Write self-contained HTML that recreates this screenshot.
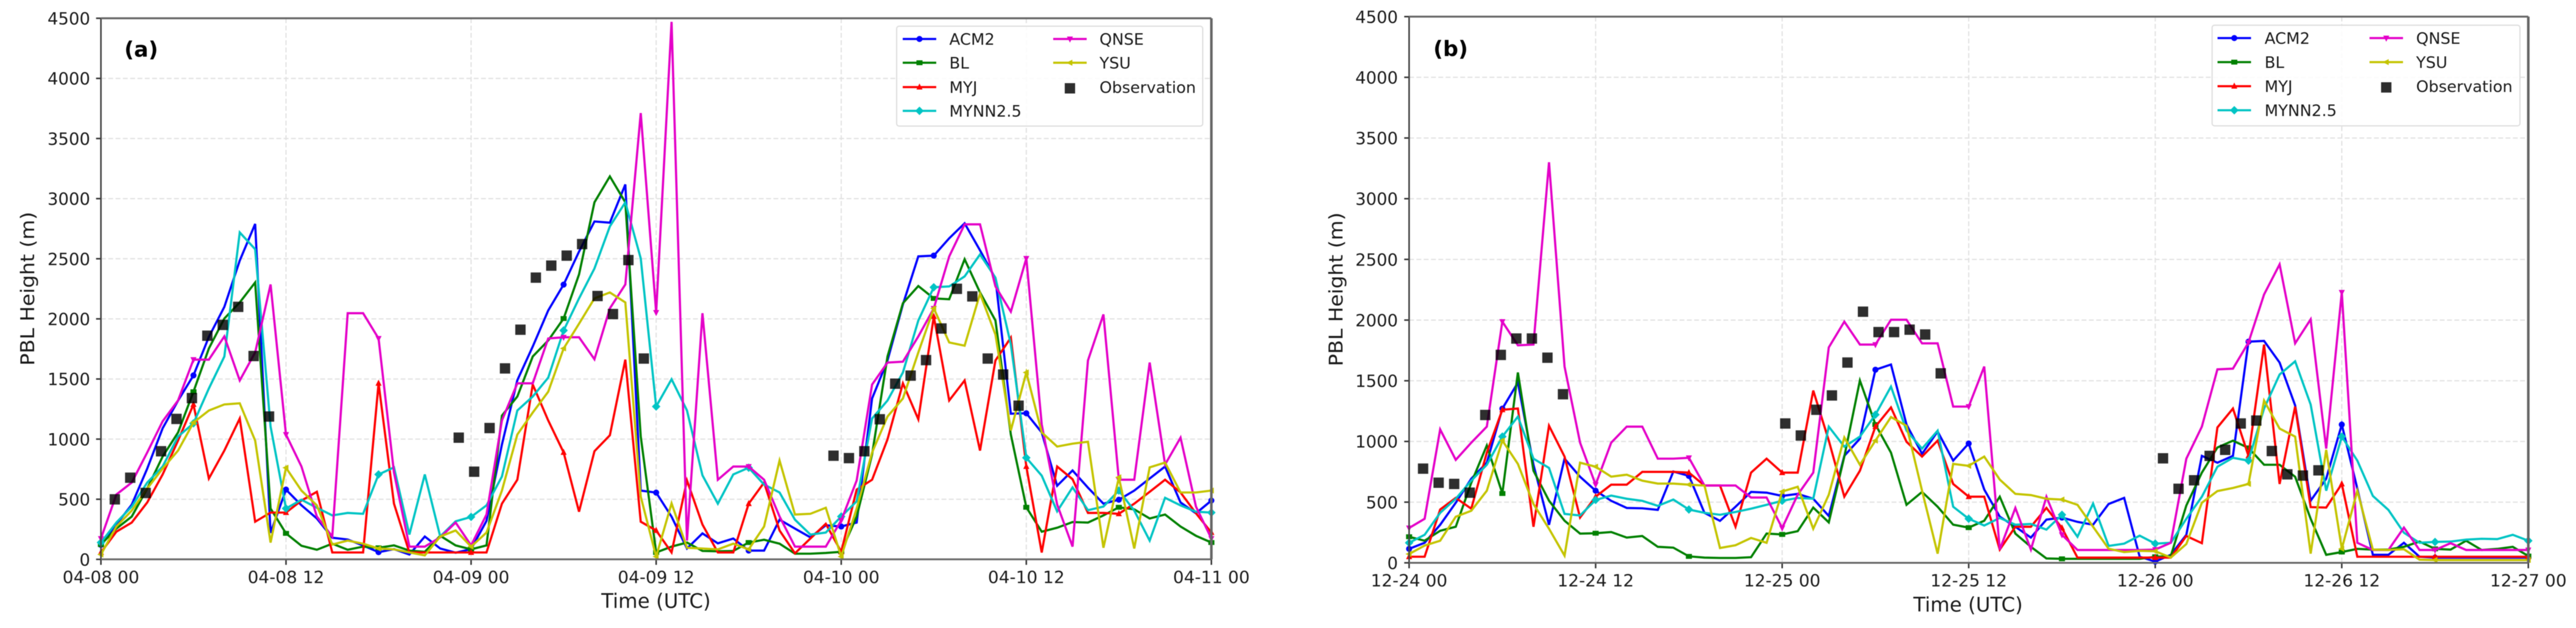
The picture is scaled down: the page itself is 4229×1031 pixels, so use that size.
<!DOCTYPE html>
<html lang="en">
<head>
<meta charset="utf-8">
<title>PBL Height comparison</title>
<style>
html,body{margin:0;padding:0;background:#fff;}
body{width:4229px;height:1031px;overflow:hidden;}
svg{display:block;filter:blur(0.6px);}
text{font-family:"DejaVu Sans","Liberation Sans",sans-serif;fill:#1a1a1a;}
</style>
</head>
<body>
<svg id="chart" xmlns="http://www.w3.org/2000/svg" width="4229" height="1031" viewBox="0 0 4229 1031"></svg>
<script>
const yTickValues = [0,500,1000,1500,2000,2500,3000,3500,4000,4500];
const xTickHours = [0,12,24,36,48,60,72];
const xTickLabelsA = ["04-08 00","04-08 12","04-09 00","04-09 12","04-10 00","04-10 12","04-11 00"];
const xTickLabelsB = ["12-24 00","12-24 12","12-25 00","12-25 12","12-26 00","12-26 12","12-27 00"];
const seriesNames = ["ACM2","BL","MYJ","MYNN2.5","QNSE","YSU"];

const acm2A = [120,290,455,755,1090,1320,1530,1850,2100,2485,2790,220,580,450,340,180,165,115,60,85,40,190,90,55,85,320,955,1490,1770,2070,2285,2560,2810,2800,3118,572,555,355,90,216,133,173,73,73,330,256,183,283,273,306,1338,1654,2120,2520,2526,2670,2795,2570,2336,1211,1215,1055,612,739,596,463,496,572,672,772,473,383,489];
const blA = [123,256,356,589,855,1055,1394,1754,2003,2137,2303,423,216,113,80,130,80,106,96,116,73,63,196,116,83,116,1195,1354,1687,1820,2003,2370,2969,3185,2969,1022,57,106,140,70,67,70,140,163,130,47,47,53,63,356,872,1687,2130,2273,2170,2163,2496,2220,1987,1038,433,230,263,310,306,366,433,416,340,373,273,196,140];
const myjA = [57,230,306,473,706,988,1288,672,905,1171,313,389,389,489,562,57,57,57,1464,463,57,57,57,57,57,57,463,662,1454,1155,889,396,899,1032,1661,313,240,57,656,290,57,57,463,639,240,50,173,296,63,580,662,998,1464,1165,2020,1321,1488,905,1654,1844,772,57,772,666,386,386,379,463,562,662,556,383,223];
const mynnA = [140,306,439,639,772,1022,1131,1421,1687,2719,2579,1105,423,496,429,366,386,379,706,765,206,706,190,316,353,449,689,1238,1354,1511,1904,2170,2419,2769,2969,2503,1271,1498,1238,699,463,706,762,622,556,330,206,223,356,483,1171,1321,1554,1987,2263,2270,2353,2536,2343,1787,845,696,399,599,409,439,572,406,156,512,449,396,389];
const qnseA = [173,539,639,889,1148,1321,1661,1661,1854,1488,1721,2286,1038,772,356,190,2047,2047,1837,722,106,106,183,306,116,373,1155,1464,1464,1837,1847,1847,1664,2087,2286,3711,2053,4470,156,2047,662,772,772,662,356,106,106,106,323,656,1454,1637,1644,1854,2087,2519,2786,2786,2270,2060,2503,1122,456,106,1654,2037,662,662,1637,789,1012,439,173];
const ysuA = [40,273,406,589,755,905,1138,1238,1288,1298,988,140,762,572,449,123,156,130,90,83,57,33,190,240,106,223,572,1038,1221,1394,1754,1960,2170,2220,2137,522,23,466,96,90,83,130,83,273,822,373,379,429,23,423,889,1188,1338,1721,2087,1804,1777,2210,1870,1072,1554,1055,938,962,978,96,682,90,765,805,556,556,572];
const obsHoursA = [0.9,1.9,2.9,3.9,4.9,5.9,6.9,7.9,8.9,9.9,10.9,23.2,24.2,25.2,26.2,27.2,28.2,29.2,30.2,31.2,32.2,33.2,34.2,35.2,47.5,48.5,49.5,50.5,51.5,52.5,53.5,54.5,55.5,56.5,57.5,58.5,59.5];
const obsValuesA = [499,679,552,899,1168,1341,1860,1950,2100,1691,1188,1012,729,1092,1588,1910,2343,2443,2526,2622,2190,2040,2489,1670,862,842,899,1165,1461,1528,1657,1920,2250,2187,1670,1537,1278];

const acm2B = [115,165,313,495,693,825,1270,1485,808,313,858,709,594,511,452,449,436,752,716,412,346,462,584,578,551,568,528,386,881,1023,1591,1634,1139,898,1082,842,983,604,380,297,208,356,373,337,314,485,535,50,10,66,231,881,825,881,1822,1828,1650,1297,512,693,1139,611,66,66,165,50,43,43,43,43,43,43,43];
const blB = [215,182,264,297,660,967,571,1568,759,512,347,241,244,254,208,221,132,125,53,43,40,40,46,241,234,261,455,333,875,1502,1139,908,478,584,462,314,290,347,545,241,132,36,33,33,33,33,33,33,50,56,472,743,950,1006,947,808,808,709,363,66,89,115,109,109,132,175,115,109,182,106,115,132,56];
const myjB = [50,50,439,535,446,908,1261,1271,297,1129,875,373,545,644,644,749,749,749,743,637,637,297,743,858,743,743,1419,1007,545,759,1122,1280,997,875,1007,650,545,545,109,297,297,452,287,43,43,43,43,43,43,43,221,162,1115,1271,881,1798,650,1287,459,455,650,50,50,50,50,50,50,50,50,50,50,50,50];
const mynnB = [165,231,412,528,677,808,1040,1205,858,782,403,390,518,554,528,511,469,521,439,412,396,419,446,478,511,535,528,1122,957,1040,1221,1452,1089,941,1089,462,363,307,370,314,320,274,396,215,488,139,158,224,158,165,363,545,792,865,842,1271,1551,1660,1304,594,1040,842,551,436,248,165,172,175,191,198,195,231,182];
const qnseB = [287,363,1099,848,990,1122,1987,1792,1798,3300,1617,990,644,990,1122,1122,858,858,865,637,637,637,538,538,287,561,743,1775,1987,1798,1798,2003,2003,1808,1808,1287,1287,1617,109,452,109,545,231,106,106,106,106,106,109,165,858,1122,1594,1600,1815,2211,2459,1808,2006,941,2228,165,106,106,290,106,106,162,106,106,106,106,106];
const ysuB = [73,142,182,380,429,594,1007,815,485,281,59,825,792,710,726,677,653,653,644,637,122,145,205,165,587,627,281,561,1033,808,1007,1201,1129,594,76,815,799,875,686,568,558,528,521,478,297,116,89,99,96,43,155,495,591,617,650,1337,1106,1040,76,931,116,594,109,106,112,26,23,23,23,23,23,23,23];
const obsHoursB = [0.9,1.9,2.9,3.9,4.9,5.9,6.9,7.9,8.9,9.9,24.2,25.2,26.2,27.2,28.2,29.2,30.2,31.2,32.2,33.2,34.2,48.5,49.5,50.5,51.5,52.5,53.5,54.5,55.5,56.5,57.5,58.5];
const obsValuesB = [776,660,650,578,1218,1713,1848,1848,1690,1389,1148,1049,1261,1379,1650,2069,1901,1901,1921,1881,1561,861,610,680,881,931,1148,1172,921,729,719,762];

const seriesColors = ["#0000ff","#008000","#ff0000","#00c4c4","#e400c8","#c4c400"];
const markerKinds = ["circle","square","up","diamond","down","left"];
const svg = document.getElementById('chart');
const NS = 'http://www.w3.org/2000/svg';

function make(tag, attrs, parent){
  const e = document.createElementNS(NS, tag);
  for (const k in attrs) e.setAttribute(k, attrs[k]);
  (parent || svg).appendChild(e);
  return e;
}
function markerPath(kind, cx, cy){
  const r = 5;
  if (kind === 'square') return `M${cx-r} ${cy-r+1}H${cx+r}V${cy+r-1}H${cx-r}Z`;
  if (kind === 'up') return `M${cx} ${cy-r-1}L${cx+r} ${cy+r-1}H${cx-r}Z`;
  if (kind === 'down') return `M${cx} ${cy+r+1}L${cx+r} ${cy-r+1}H${cx-r}Z`;
  if (kind === 'left') return `M${cx-r-1} ${cy}L${cx+r-1} ${cy-r}V${cy+r}Z`;
  if (kind === 'diamond') return `M${cx} ${cy-r-2}L${cx+r+2} ${cy}L${cx} ${cy+r+2}L${cx-r-2} ${cy}Z`;
  return `M${cx-r} ${cy}A${r} ${r} 0 1 0 ${cx+r} ${cy}A${r} ${r} 0 1 0 ${cx-r} ${cy}Z`;
}
function drawPanel(p){
  const xAxis = h => p.left + (p.right - p.left) * h / 72;
  const yAxis = v => p.bottom - (p.bottom - p.top) * v / 4500;
  const g = make('g', {});
  
  

  yTickValues.forEach(v => {
    const yy = yAxis(v);
    if (v > 0 && v < 4500) {
      const line = make('line', {x1:p.left, x2:p.right, y1:yy, y2:yy, stroke:'#e2e2e2', 'stroke-width':2, 'stroke-dasharray':'8 4'}, g);
      
      
    }
    const tick = make('line', {x1:p.left-8, x2:p.left, y1:yy, y2:yy, stroke:'#333', 'stroke-width':2.5}, g);
    
    
    const label = make('text', {x:p.yLabelX, y:yy+10, 'text-anchor':'end', 'font-size':27.5}, g);
    label.textContent = String(v);
    
    
  });
  xTickHours.forEach((h, i) => {
    const xx = xAxis(h);
    if (h > 0 && h < 72) {
      const line = make('line', {x1:xx, x2:xx, y1:p.top, y2:p.bottom, stroke:'#e2e2e2', 'stroke-width':2, 'stroke-dasharray':'8 4'}, g);
      
      
    }
    const tick = make('line', {x1:xx, x2:xx, y1:p.bottom, y2:p.bottom+9, stroke:'#333', 'stroke-width':2.5}, g);
    
    
    const label = make('text', {x:xx, y:p.xLabelY, 'text-anchor':'middle', 'font-size':28}, g);
    label.textContent = p.xLabels[i];
    
    
  });

  p.series.forEach((vals, s) => {
    const line = make('polyline', {
      points: vals.map((v, h) => xAxis(h).toFixed(1) + ',' + yAxis(v).toFixed(1)).join(' '),
      fill:'none', stroke:seriesColors[s], 'stroke-width':3.6, 'stroke-linejoin':'miter'
    }, g);
    
    
    vals.forEach((v, h) => {
      if (h % 6 !== 0) return;
      const mk = make('path', {d:markerPath(markerKinds[s], xAxis(h), yAxis(v)), fill:seriesColors[s]}, g);
      
      
    });
  });
  p.obsValues.forEach((v, i) => {
    const sq = make('rect', {x:xAxis(p.obsHours[i])-8.5, y:yAxis(v)-8.5, width:17, height:17, fill:'#000', 'fill-opacity':0.82}, g);
    
    
  });

  const spines = [
    ['left-spine',p.left,p.top,p.left,p.bottom,'#444',2.6],
    ['bottom-spine',p.left,p.bottom,p.right,p.bottom,'#666',3],
    ['top-spine',p.left,p.top,p.right,p.top,'#666',3.2],
    ['right-spine',p.right,p.top,p.right,p.bottom,'#666',4.2]
  ];
  spines.forEach(c => {
    const sp = make('line', {x1:c[1], y1:c[2], x2:c[3], y2:c[4], stroke:c[5], 'stroke-width':c[6]}, g);
    
    
  });

  const panelLabel = make('text', {x:p.tagX, y:p.tagY, 'font-size':35, 'font-weight':'bold', style:'fill:#000'}, g);
  panelLabel.textContent = p.tag;
  
  

  const xTitle = make('text', {x:p.xTitleX, y:p.xTitleY, 'text-anchor':'middle', 'font-size':32.5}, g);
  xTitle.textContent = 'Time (UTC)';
  
  

  const yTitle = make('text', {'text-anchor':'middle', 'font-size':33.5, transform:`translate(${p.yTitleX} ${p.yTitleY}) rotate(-90) scale(1 0.92)`}, g);
  yTitle.textContent = 'PBL Height (m)';
  
  

  const L = p.legend;
  const lg = make('g', {}, g);
  
  
  const box = make('rect', {x:L.x0, y:L.y0, width:L.x1-L.x0, height:L.y1-L.y0, rx:4, fill:'#fff', 'fill-opacity':0.85, stroke:'#dedede', 'stroke-width':2}, lg);
  
  
  const placement = [[0,0],[0,1],[0,2],[0,3],[1,0],[1,1]];
  seriesNames.forEach((name, s) => {
    const col = placement[s][0], yy = L.rows[placement[s][1]];
    const hx0 = L.handle[col], hx1 = hx0 + 55;
    const handle = make('line', {x1:hx0, x2:hx1, y1:yy, y2:yy, stroke:seriesColors[s], 'stroke-width':3.6}, lg);
    
    
    const mk = make('path', {d:markerPath(markerKinds[s], (hx0+hx1)/2, yy), fill:seriesColors[s]}, lg);
    
    
    const label = make('text', {x:L.text[col], y:yy+9.5, 'font-size':26}, lg);
    label.textContent = name;
    
    
  });
  const obsX = L.handle[1] + 27.5;
  const obsY = L.rows[2] + 2;
  const obsMark = make('rect', {x:obsX-8.5, y:obsY-8.5, width:17, height:17, fill:'#000', 'fill-opacity':0.82}, lg);
  
  
  const obsLabel = make('text', {x:L.text[1], y:L.rows[2]+9.5, 'font-size':26}, lg);
  obsLabel.textContent = 'Observation';
  
  
}

drawPanel({
  id:'a', tag:'(a)', left:165.7, right:1988.7, top:30, bottom:918.3,
  yLabelX:148, xLabelY:957, tagX:204, tagY:93,
  xTitleX:1077, xTitleY:998, yTitleX:56, yTitleY:474,
  xLabels:xTickLabelsA,
  series:[acm2A,blA,myjA,mynnA,qnseA,ysuA],
  obsHours:obsHoursA, obsValues:obsValuesA,
  legend:{x0:1472,x1:1974.5,y0:43,y1:207,rows:[64,103,143,182],handle:[1482,1729],text:[1558.5,1805]}
});
drawPanel({
  id:'b', tag:'(b)', left:2313.3, right:4150.7, top:27.3, bottom:924,
  yLabelX:2295, xLabelY:962.5, tagX:2353, tagY:92,
  xTitleX:3231, xTitleY:1004, yTitleX:2204, yTitleY:475,
  xLabels:xTickLabelsB,
  series:[acm2B,blB,myjB,mynnB,qnseB,ysuB],
  obsHours:obsHoursB, obsValues:obsValuesB,
  legend:{x0:3631.6,x1:4137,y0:41.4,y1:206.6,rows:[62.5,102,141.5,181],handle:[3640.5,3890],text:[3717.7,3966.5]}
});
</script>
</body>
</html>
